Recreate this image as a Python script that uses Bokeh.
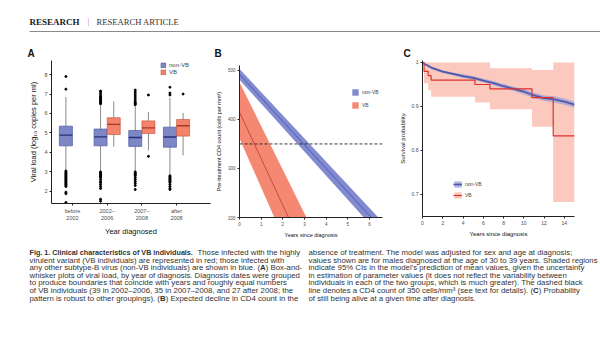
import numpy as np
from bokeh.plotting import figure
from bokeh.models import Range1d, Legend, LegendItem, FixedTicker
from bokeh.layouts import column, row
from bokeh.embed import file_html
from bokeh.resources import INLINE
from bokeh.core.properties import value

# ---------------- Panel A data (viral load box plots) ----------------
year_labels = ["before\n2002", "2002–\n2006", "2007–\n2008", "after\n2008"]
year_pos = [1, 2, 3, 4]

nonvb_q1 = [4.34, 4.34, 4.31, 4.27]
nonvb_med = [4.89, 4.80, 4.77, 4.79]
nonvb_q3 = [5.35, 5.20, 5.13, 5.30]
nonvb_lo = [3.10, 3.05, 3.05, 2.85]
nonvb_hi = [6.85, 6.45, 6.40, 6.80]
nonvb_out = [
    [7.25, 7.9, 3.05, 3.0, 2.95, 2.9, 2.85, 2.8, 2.75, 2.7, 2.65, 2.6, 2.55, 2.5,
     2.45, 2.4, 2.35, 2.3, 2.25, 1.96, 1.88, 1.43],
    [6.5, 6.55, 6.6, 6.65, 6.7, 6.75, 6.8, 6.85, 6.9, 7.0, 7.1, 7.15, 3.0, 2.95,
     2.9, 2.85, 2.8, 2.75, 2.7, 2.6, 2.5, 2.45, 2.35, 2.25, 2.15, 1.6, 1.5],
    [6.45, 6.5, 6.55, 6.6, 6.7, 6.8, 6.9, 7.0, 7.1, 7.2, 3.0, 2.95, 2.9, 2.85,
     2.8, 2.7, 2.6, 2.5, 2.4, 2.3, 2.1],
    [6.95, 7.05, 7.35, 2.8, 2.75, 2.7, 2.65, 2.6, 2.55, 2.5, 2.45, 2.35, 2.25,
     2.15, 2.1],
]
vb_pos = [2, 3, 4]
vb_q1 = [4.92, 4.97, 4.84]
vb_med = [5.44, 5.26, 5.37]
vb_q3 = [5.78, 5.62, 5.69]
vb_lo = [4.30, 4.10, 3.85]
vb_hi = [6.62, 6.07, 6.03]
vb_out = [[], [6.95, 3.8], [7.0]]

# ---------------- Panel B data (CD4 decline) ----------------
b_years_nonvb = [0.0, 6.6]
b_mean_nonvb = [492.0, 175.0]
b_low_nonvb = [481.0, 158.0]
b_up_nonvb = [503.0, 191.0]
b_years_vb = [0.0, 3.2]
b_mean_vb = [415.0, 111.0]
b_low_vb = [361.0, 41.0]
b_up_vb = [476.0, 190.0]
cd4_threshold = 350

# ---------------- Panel C data (survival) ----------------
c_t_nonvb = [0, 0.25, 0.5, 1, 1.5, 2, 3, 4, 5, 6, 7, 8, 9, 10, 11, 12, 13, 14, 15]
c_s_nonvb = [1.0, 0.996, 0.993, 0.987, 0.983, 0.979, 0.974, 0.969, 0.965, 0.959,
             0.953, 0.946, 0.940, 0.934, 0.925, 0.919, 0.916, 0.911, 0.904]
c_lo_nonvb = [1.0, 0.994, 0.990, 0.984, 0.980, 0.976, 0.971, 0.965, 0.961, 0.955,
              0.948, 0.941, 0.935, 0.928, 0.919, 0.913, 0.909, 0.904, 0.897]
c_hi_nonvb = [1.0, 0.998, 0.996, 0.990, 0.986, 0.982, 0.977, 0.973, 0.969, 0.963,
              0.958, 0.951, 0.945, 0.940, 0.931, 0.925, 0.923, 0.918, 0.911]
c_t_vb = [0, 0.15, 0.56, 0.85, 5.18, 6.66, 10.8, 12.9, 15]
c_s_vb = [1.0, 0.98, 0.97, 0.96, 0.95, 0.94, 0.92, 0.833, 0.833]
c_lo_vb = [1.0, 0.953, 0.937, 0.922, 0.909, 0.894, 0.854, 0.683, 0.683]
c_hi_vb = [1.0, 1.0, 1.0, 1.0, 1.0, 0.987, 0.983, 1.0, 1.0]

# ---------------- Text ----------------
caption_left = [
    "virulent variant (VB individuals) are represented in red; those infected with",
    None,
    "whisker plots of viral load, by year of diagnosis. Diagnosis dates were grouped",
    "to produce boundaries that coincide with years and roughly equal numbers",
    "of VB individuals (39 in 2002–2006, 35 in 2007–2008, and 27 after 2008; the",
]
caption_right = [
    "absence of treatment. The model was adjusted for sex and age at diagnosis;",
    "values shown are for males diagnosed at the age of 30 to 39 years. Shaded regions",
    "indicate 95% CIs in the model's prediction of mean values, given the uncertainty",
    "in estimation of parameter values (it does not reflect the variability between",
    "individuals in each of the two groups, which is much greater). The dashed black",
    None,
    "of still being alive at a given time after diagnosis.",
]

BLUE_FILL = "#7d87c5"
BLUE_LINE = "#4f5a9e"
BLUE_MED = "#27307a"
RED_FILL = "#f4836b"
RED_LINE = "#c65a45"
RED_MED = "#a8362a"
FONT = "Liberation Sans"

# approximate Arial / Liberation Sans advance widths (per 1000 em)
_W = {" ": 278, "a": 556, "b": 556, "c": 500, "d": 556, "e": 556, "f": 278, "g": 556,
      "h": 556, "i": 222, "j": 222, "k": 500, "l": 222, "m": 833, "n": 556, "o": 556,
      "p": 556, "q": 556, "r": 333, "s": 500, "t": 278, "u": 556, "v": 500, "w": 722,
      "x": 500, "y": 500, "z": 500, "A": 667, "B": 667, "C": 722, "D": 722, "E": 667,
      "F": 611, "G": 778, "H": 722, "I": 278, "N": 722, "S": 667, "T": 611, "V": 667,
      ".": 278, ",": 278, ";": 278, ":": 278, "-": 333, "(": 333, ")": 333, "–": 556,
      "/": 278, "%": 889, "'": 191, "³": 333}


def tw(s, size):
    return sum(_W.get(c, 556) for c in s) * size / 1000.0


def style_axes(p, tick_size, title_size):
    for ax in p.axis:
        ax.axis_line_color = "#222222"
        ax.axis_line_width = 1
        ax.major_tick_line_color = "#222222"
        ax.major_tick_out = 2
        ax.major_tick_in = 0
        ax.minor_tick_line_color = None
        ax.major_label_text_font_size = tick_size
        ax.major_label_text_color = "#4d4d4d"
        ax.major_label_text_font = FONT
        ax.axis_label_text_font_size = title_size
        ax.axis_label_text_font_style = "normal"
        ax.axis_label_text_font = FONT
        ax.axis_label_text_color = "#111111"
        ax.axis_label_standoff = 3
        ax.major_label_standoff = 2
    p.grid.visible = False
    p.outline_line_color = None


def legend(items, loc, spacing, gw, gh, fs):
    return Legend(items=items, location=loc, padding=0, margin=0, spacing=spacing,
                  glyph_width=gw, glyph_height=gh, label_height=gh,
                  label_standoff=3, label_text_font_size=fs,
                  label_text_font=FONT, background_fill_alpha=0,
                  border_line_alpha=0)


# ================= Panel A =================
off = 0.19
bw = 0.375
pA = figure(width=212, height=182, x_range=Range1d(0.395, 4.98),
            y_range=Range1d(1.38, 8.72), output_backend="svg",
            toolbar_location=None, min_border_left=51, min_border_right=2,
            min_border_top=2, min_border_bottom=37, frame_align=False)
nx = [x - off for x in year_pos]
vx = [x + off for x in vb_pos]
pA.segment(nx, nonvb_lo, nx, nonvb_hi, line_color="#8c8c8c", line_width=1)
pA.segment(vx, vb_lo, vx, vb_hi, line_color="#8c8c8c", line_width=1)
rA1 = pA.vbar(x=nx, width=bw, bottom=nonvb_q1, top=nonvb_q3, fill_color=BLUE_FILL,
              line_color=BLUE_LINE, line_width=0.7)
rA2 = pA.vbar(x=vx, width=bw, bottom=vb_q1, top=vb_q3, fill_color=RED_FILL,
              line_color=RED_LINE, line_width=0.7)
pA.segment([x - bw / 2 for x in nx], nonvb_med, [x + bw / 2 for x in nx], nonvb_med,
           line_color=BLUE_MED, line_width=1.4)
pA.segment([x - bw / 2 for x in vx], vb_med, [x + bw / 2 for x in vx], vb_med,
           line_color=RED_MED, line_width=1.4)
ox, oy = [], []
for x, outs in zip(nx, nonvb_out):
    ox += [x] * len(outs)
    oy += outs
for x, outs in zip(vx, vb_out):
    ox += [x] * len(outs)
    oy += outs
pA.scatter(ox, oy, size=2, color="black")
pA.xaxis.ticker = FixedTicker(ticks=year_pos)
pA.xaxis.major_label_overrides = {p: l for p, l in zip(year_pos, year_labels)}
pA.yaxis.ticker = FixedTicker(ticks=[2, 3, 4, 5, 6, 7, 8])
pA.xaxis.axis_label = "Year diagnosed"
pA.yaxis.axis_label = "Viral load (log₁₀ copies per ml)"
style_axes(pA, "5.5px", "7.5px")
pA.add_layout(legend([LegendItem(label="non-VB", renderers=[rA1]),
                      LegendItem(label="VB", renderers=[rA2])],
                     (109, 128), 1, 6, 6, "6px"))

# ================= Panel B =================
pB = figure(width=183, height=182, x_range=Range1d(0, 6.6),
            y_range=Range1d(200, 510), output_backend="svg",
            toolbar_location=None, min_border_left=24, min_border_right=13,
            min_border_top=7, min_border_bottom=22, frame_align=False)
rB2 = pB.varea(x=b_years_vb, y1=b_low_vb, y2=b_up_vb, fill_color="#f4826c",
               fill_alpha=0.95)
pB.line(b_years_vb, b_mean_vb, line_color="#c0392f", line_width=0.8)
rB1 = pB.varea(x=b_years_nonvb, y1=b_low_nonvb, y2=b_up_nonvb, fill_color="#7b85cc",
               fill_alpha=0.95)
pB.line(b_years_nonvb, b_mean_nonvb, line_color="#4150b0", line_width=0.8)
pB.line([0, 6.6], [cd4_threshold, cd4_threshold], line_color="#222222",
        line_width=0.9, line_dash="3 2")
pB.xaxis.ticker = FixedTicker(ticks=[0, 1, 2, 3, 4, 5, 6])
pB.yaxis.ticker = FixedTicker(ticks=[200, 300, 400, 500])
pB.xaxis.axis_label = "Years since diagnosis"
pB.yaxis.axis_label = "Pre-treatment CD4 count (cells per mm³)"
style_axes(pB, "4.5px", "5.5px")
pB.add_layout(legend([LegendItem(label="non-VB", renderers=[rB1]),
                      LegendItem(label="VB", renderers=[rB2])],
                     (112, 108), 5, 8, 8, "5px"))

# ================= Panel C =================
pC = figure(width=205, height=182, x_range=Range1d(0, 15),
            y_range=Range1d(0.65, 1.0045), output_backend="svg",
            toolbar_location=None, min_border_left=27, min_border_right=26,
            min_border_top=2, min_border_bottom=24, frame_align=False)
tv = np.array(c_t_vb)
step_x = np.repeat(tv, 2)[1:]
step_lo = np.repeat(np.array(c_lo_vb), 2)[:-1]
step_hi = np.repeat(np.array(c_hi_vb), 2)[:-1]
rC2b = pC.varea(x=step_x, y1=step_lo, y2=step_hi, fill_color="#f79c86",
                fill_alpha=0.55)
rC1b = pC.varea(x=c_t_nonvb, y1=c_lo_nonvb, y2=c_hi_nonvb, fill_color="#8e98d8",
                fill_alpha=0.65)
rC1 = pC.line(c_t_nonvb, c_s_nonvb, line_color="#4e59aa", line_width=1.8)
rC2 = pC.step(c_t_vb, c_s_vb, mode="after", line_color="#e0302b", line_width=1.2)
pC.xaxis.ticker = FixedTicker(ticks=[0, 2, 4, 6, 8, 10, 12, 14])
pC.yaxis.ticker = FixedTicker(ticks=[0.7, 0.8, 0.9, 1.0])
pC.xaxis.axis_label = "Years since diagnosis"
pC.yaxis.axis_label = "Survival probability"
style_axes(pC, "5px", "6px")
pC.add_layout(legend([LegendItem(label="non-VB", renderers=[rC1b, rC1]),
                      LegendItem(label="VB", renderers=[rC2b, rC2])],
                     (31, 17), 3, 9, 8, "5px"))


# ================= Header and caption =================
def blank(w, h, y0, y1):
    f = figure(width=w, height=h, x_range=Range1d(0, w), y_range=Range1d(y1, y0),
               output_backend="svg", toolbar_location=None, min_border=0,
               x_axis_type=None, y_axis_type=None, frame_align=False)
    f.grid.visible = False
    f.outline_line_color = None
    return f


head = blank(600, 58, 0, 58)
head.text(x=[29], y=[21], text=["RESEARCH"], text_font=value("Liberation Serif"),
          text_font_style="bold", text_font_size="9px", text_baseline="middle",
          text_color="#222222")
head.text(x=[87], y=[21], text=["|"], text_font=value("Liberation Serif"),
          text_font_size="8px", text_baseline="middle", text_color="#c0607a")
head.text(x=[96], y=[21], text=["RESEARCH ARTICLE"], text_font=value("Liberation Serif"),
          text_font_size="8.6px", text_baseline="middle", text_color="#333333")
head.segment(x0=[29], y0=[31], x1=[600], y1=[31], line_color="#8a8a8a", line_width=1)
head.text(x=[27, 214, 403], y=[53, 53, 53], text=["A", "B", "C"],
          text_font=value(FONT), text_font_style="bold", text_font_size="10px",
          text_baseline="middle", text_color="#111111")

cap = blank(600, 99, 240, 339)
line_y = [252, 259.6, 267.2, 274.8, 282.4, 290, 297.6]
CAPF = value("Liberation Sans")
CS = 7.8
CAPC = "#333333"


def ctext(x, y, t, bold=False, size=CS):
    cap.text(x=[x], y=[y], text=[t], text_font=CAPF, text_font_size=f"{size}px",
             text_font_style="bold" if bold else "normal",
             text_baseline="middle", text_color=CAPC)


def ctext_bold_letter(x, y, before, letter, after):
    ctext(x, y, before)
    xb = x + tw(before, CS)
    ctext(xb, y, letter, bold=True)
    ctext(xb + 0.722 * CS, y, after)


ctext(29, line_y[0], "Fig. 1. Clinical characteristics of VB individuals.", bold=True, size=7.2)
ctext(197, line_y[0], "Those infected with the highly")
for i, t in enumerate(caption_left):
    if t is not None:
        ctext(29, line_y[i + 1], t)
ctext_bold_letter(29, line_y[2],
                  "any other subtype-B virus (non-VB individuals) are shown in blue. (",
                  "A", ") Box-and-")
ctext_bold_letter(29, line_y[6], "pattern is robust to other groupings). (", "B",
                  ") Expected decline in CD4 count in the")
for i, t in enumerate(caption_right):
    if t is not None:
        ctext(308, line_y[i], t)
ctext_bold_letter(308, line_y[5],
                  "line denotes a CD4 count of 350 cells/mm³ (see text for details). (",
                  "C", ") Probability")

layout = column(head, row(pA, pB, pC, spacing=0), cap, spacing=0)
open("out.html", "w").write(file_html(layout, INLINE))
